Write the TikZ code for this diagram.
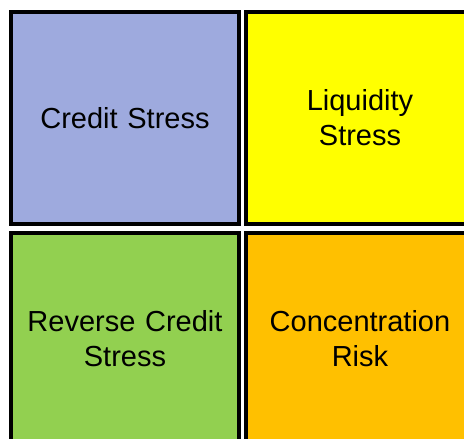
\documentclass[tikz,border=0pt]{standalone}
\usepackage{fontspec}
\setmainfont{Liberation Sans}
\usetikzlibrary{positioning}
\definecolor{riskblue}{RGB}{158,170,222}
\definecolor{riskyellow}{RGB}{255,255,0}
\definecolor{riskgreen}{RGB}{146,208,80}
\definecolor{riskorange}{RGB}{255,192,0}

\begin{document}
\begin{tikzpicture}[
        quadrant/.style={rectangle, draw=black, line width=4pt, minimum width=228pt, minimum height=212pt, text width=200pt, align=center, font=\fontsize{29}{35}\selectfont, inner sep=0pt}
    ]
        \useasboundingbox (0,0) rectangle (464pt,-439pt);
        \clip (0,0) rectangle (464pt,-439pt);

        % Top row
        \node[quadrant, fill=riskblue] (credit) at (125pt,-118pt) {Credit Stress};
        \node[quadrant, fill=riskyellow, right=3pt of credit] (liquidity) {Liquidity \\ Stress};

        % Bottom row
        \node[quadrant, fill=riskgreen, below=5pt of credit] (reverse) {Reverse Credit \\ Stress};
        \node[quadrant, fill=riskorange, below=5pt of liquidity] (concentration) {Concentration \\ Risk};
    \end{tikzpicture}
\end{document}
